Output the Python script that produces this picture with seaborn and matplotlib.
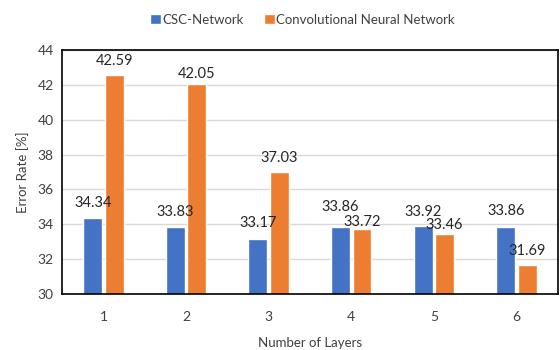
import matplotlib
matplotlib.use("Agg")
import matplotlib.pyplot as plt
import seaborn as sns
import pandas as pd

layers = ["1", "2", "3", "4", "5", "6"]
csc = [34.34, 33.83, 33.17, 33.86, 33.92, 33.86]
cnn = [42.59, 42.05, 37.03, 33.72, 33.46, 31.69]
series = ["CSC-Network", "Convolutional Neural Network"]

# label offsets above bar tops (points), as placed in the original
csc_off = [11, 11, 11, 14.5, 10, 11.5]
cnn_off = [10, 7, 10, 5, 6.5, 10]

df = pd.DataFrame({
    "Layers": layers * 2,
    "Error": csc + cnn,
    "Model": [series[0]] * len(layers) + [series[1]] * len(layers),
})

sns.set_theme(style="white")
plt.rcParams["font.family"] = ["Lato", "DejaVu Sans"]

fig = plt.figure(figsize=(5.6, 3.5), dpi=100)
ax = fig.add_axes([0.111, 0.16, 0.885, 0.697])

sns.barplot(data=df, x="Layers", y="Error", hue="Model", order=layers,
            hue_order=series, palette=["#4472C4", "#ED7D31"],
            width=0.52, gap=0.12, saturation=1, ax=ax)

for cont, offs in zip(ax.containers, [csc_off, cnn_off]):
    for bar, off in zip(cont, offs):
        x = bar.get_x() + bar.get_width() / 2
        y = bar.get_height()
        ax.annotate(f"{y:.2f}", (x, y), xytext=(0, off), textcoords="offset points",
                    ha="center", va="center", fontsize=10.5, color="#262626")

ax.set_ylim(30, 44)
ax.set_yticks(range(30, 45, 2))
ax.yaxis.grid(True, color="#D9D9D9", linewidth=1)
ax.set_axisbelow(True)
for s in ax.spines.values():
    s.set_visible(True)
    s.set_color("black")
    s.set_linewidth(1.2)
ax.tick_params(axis="both", length=0, labelsize=10, colors="#404040", pad=6)
ax.tick_params(axis="x", pad=12)
ax.set_xlabel("Number of Layers", fontsize=9.5, color="#404040", labelpad=10)
ax.set_ylabel("Error Rate [%]", fontsize=9.5, color="#404040", labelpad=6)

ax.legend(loc="lower center", bbox_to_anchor=(0.485, 1.05), ncol=2, frameon=False,
          fontsize=9.5, handlelength=0.8, handleheight=0.8, handletextpad=0.1,
          columnspacing=1.6, labelcolor="#404040")

fig.savefig("out.png", dpi=100)
